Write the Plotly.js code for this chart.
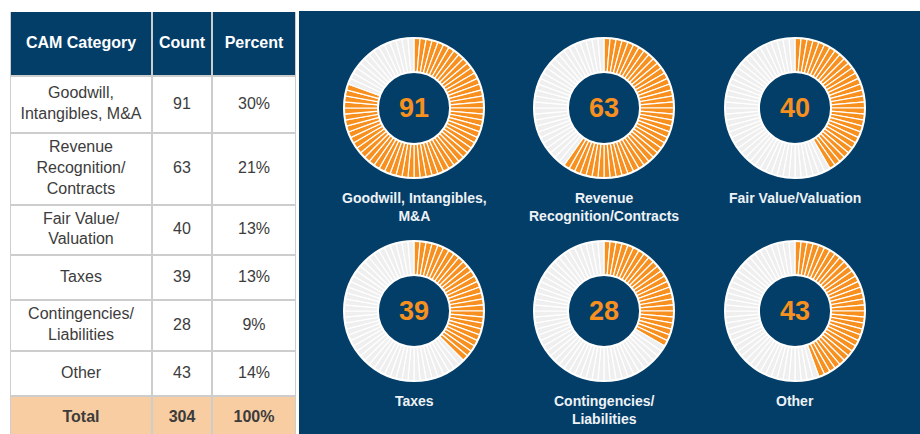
<!DOCTYPE html>
<html>
<head>
<meta charset="utf-8">
<script src="https://cdn.plot.ly/plotly-3.0.1.min.js"></script>
<style>html,body{margin:0;padding:0;background:#fff;}#chart{width:920px;height:434px;}</style>
</head>
<body>
<div id="chart"></div>
<script>
// ---- data ----
const tableCategories = ['Goodwill,<br>Intangibles, M&A', 'Revenue<br>Recognition/<br>Contracts', 'Fair Value/<br>Valuation', 'Taxes', 'Contingencies/<br>Liabilities', 'Other'];
const counts = [91, 63, 40, 39, 28, 43];
const percents = ['30%', '21%', '13%', '13%', '9%', '14%'];
const totalLabel = 'Total';
const totalCount = 304;
const totalPercent = '100%';
const headers = ['CAM Category', 'Count', 'Percent'];
const gaugeLabels = ['Goodwill, Intangibles,<br>M&A', 'Revenue<br>Recognition/Contracts', 'Fair Value/Valuation', 'Taxes', 'Contingencies/<br>Liabilities', 'Other'];
const gaugeFill = [81, 60, 42, 38, 34, 45]; // filled share of ring, %

// ---- style / layout ----
const W = 920, H = 434;
const FONT = 'Liberation Sans, Arial, sans-serif';
const navy = '#033e69';
const orange = '#f7901e';
const ringGray = '#efefef';
const peach = '#f9cda2';
const gridGray = '#cdcdcd';
const textGray = '#3c3c3c';
const nSeg = 72;
const centers = [[414,108],[604,108],[795,108],[414,311],[604,311],[795,311]];
const R = 70;
const tableLeft = 10, tableTop = 12, tableRight = 296;
const colWidths = [142, 60, 84];
const rowHeights = [64, 57, 72, 50, 45, 51, 45, 44]; // header, 6 rows, total

const px = x => x / W;
const py = y => 1 - y / H;

const traces = [];
const layout = {
  width: W, height: H,
  margin: {l:0, r:0, t:0, b:0},
  paper_bgcolor: '#ffffff',
  plot_bgcolor: 'rgba(0,0,0,0)',
  showlegend: false,
  font: {family: FONT},
  xaxis: {domain: [px(tableLeft), px(tableRight)], range: [0, tableRight - tableLeft], visible: false, fixedrange: true},
  yaxis: {domain: [0, py(tableTop)], range: [H - tableTop, 0], visible: false, fixedrange: true},
  shapes: [{type:'rect', xref:'paper', yref:'paper', x0:px(299), x1:1, y0:0, y1:py(11), fillcolor:navy, line:{width:0}, layer:'below'}],
  annotations: []
};

// ---- table (cartesian: shapes for cells, scatter text for content) ----
const colEdges = [0];
colWidths.forEach(w => colEdges.push(colEdges[colEdges.length - 1] + w));
const rowEdges = [0];
rowHeights.forEach(h => rowEdges.push(rowEdges[rowEdges.length - 1] + h));

const rows = [headers.map(h => '<b>' + h + '</b>')];
tableCategories.forEach((c, i) => rows.push([c, String(counts[i]), percents[i]]));
rows.push(['<b>' + totalLabel + '</b>', '<b>' + totalCount + '</b>', '<b>' + totalPercent + '</b>']);

const tx = [], ty = [], tt = [], tc = [], ts = [];
rows.forEach((row, r) => {
  const fill = r === 0 ? navy : (r === rows.length - 1 ? peach : '#ffffff');
  layout.shapes.push({type:'rect', xref:'x', yref:'y', x0:colEdges[0], x1:colEdges[3], y0:rowEdges[r], y1:rowEdges[r+1], fillcolor:fill, line:{width:0}, layer:'below'});
  row.forEach((txt, c) => {
    tx.push((colEdges[c] + colEdges[c+1]) / 2);
    ty.push((rowEdges[r] + rowEdges[r+1]) / 2);
    tt.push(txt);
    tc.push(r === 0 ? '#ffffff' : textGray);
    ts.push(16);
  });
});
// grid lines
colEdges.forEach(x => layout.shapes.push({type:'line', xref:'x', yref:'y', x0:x, x1:x, y0:0, y1:rowEdges[rowEdges.length-1], line:{color:gridGray, width:2}, layer:'below'}));
rowEdges.forEach((y, i) => { if (i > 0) layout.shapes.push({type:'line', xref:'x', yref:'y', x0:0, x1:colEdges[3], y0:y, y1:y, line:{color:gridGray, width:2}, layer:'below'}); });

traces.push({
  type: 'scatter', mode: 'text', x: tx, y: ty, text: tt,
  textposition: 'middle center',
  textfont: {color: tc, size: ts, family: FONT},
  hoverinfo: 'skip', cliponaxis: false
});

// ---- gauges ----
const segTheta = [];
for (let i = 0; i < nSeg; i++) segTheta.push((i + 0.5) * 360 / nSeg);

gaugeFill.forEach((f, k) => {
  const nOn = Math.round(f / 100 * nSeg);
  const colors = segTheta.map((t, i) => i < nOn ? orange : ringGray);
  const pid = k === 0 ? 'polar' : 'polar' + (k + 1);
  traces.push({
    type: 'barpolar',
    subplot: pid,
    theta: segTheta,
    r: segTheta.map(() => 1),
    width: segTheta.map(() => 360 / nSeg),
    marker: {color: colors, line: {color: '#ffffff', width: 1.2}},
    hoverinfo: 'skip'
  });
  const [cx, cy] = centers[k];
  layout[pid] = {
    domain: {x:[px(cx - R), px(cx + R)], y:[py(cy + R), py(cy - R)]},
    hole: 0.515,
    bgcolor: '#ffffff',
    bargap: 0,
    radialaxis: {visible: false, range: [0, 1]},
    angularaxis: {visible: true, rotation: 90, direction: 'clockwise', showticklabels: false, ticks: '', showgrid: false, showline: true, linecolor: '#ffffff', linewidth: 2}
  };
  layout.annotations.push({
    xref:'paper', yref:'paper', x: px(cx), y: py(cy), xanchor:'center', yanchor:'middle',
    text: '<b>' + counts[k] + '</b>', showarrow:false,
    font: {size: 27, color: orange, family: FONT}
  });
  layout.annotations.push({
    xref:'paper', yref:'paper', x: px(cx), y: py(cy + 80), xanchor:'center', yanchor:'top',
    text: '<b>' + gaugeLabels[k] + '</b>', showarrow:false, align:'center',
    font: {size: 14, color: '#eef2f6', family: FONT}
  });
});

Plotly.newPlot('chart', traces, layout, {staticPlot: true, displayModeBar: false});
</script>
</body>
</html>
